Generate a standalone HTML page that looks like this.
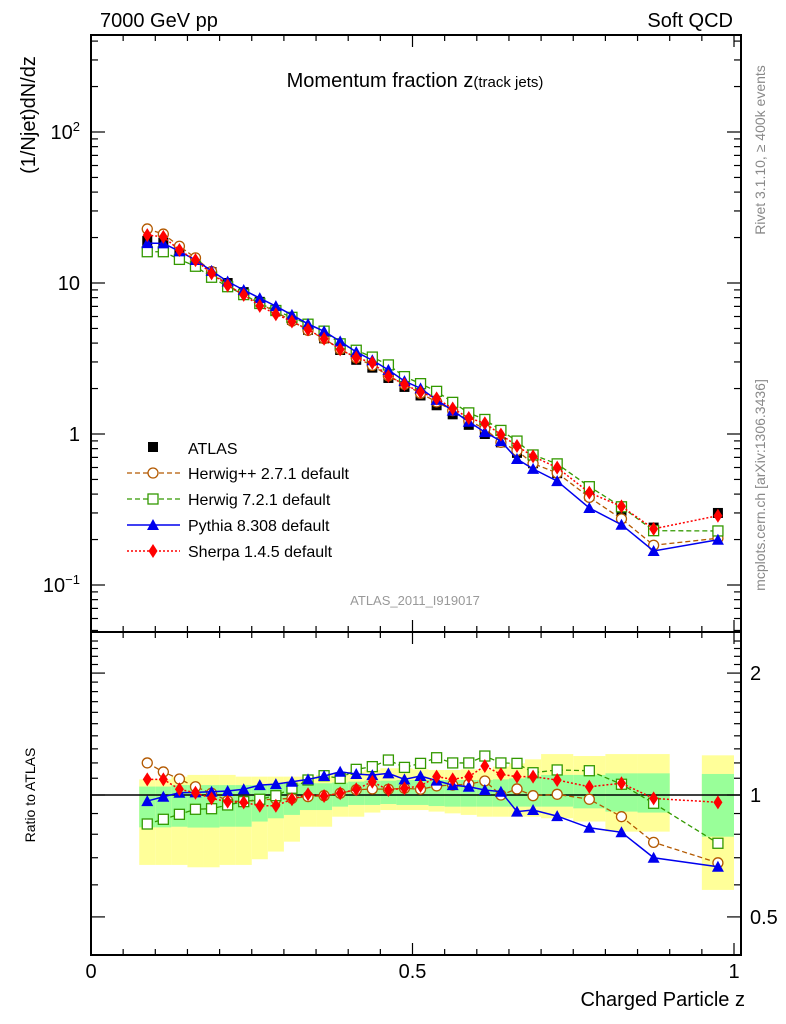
<!DOCTYPE html>
<html><head><meta charset="utf-8"><style>
body{margin:0;background:#fff;font-family:"Liberation Sans",sans-serif;}
svg{display:block}
</style></head><body>
<svg id="c" width="786" height="1024" xmlns="http://www.w3.org/2000/svg" font-family="Liberation Sans, sans-serif">
<text x="100" y="27" font-size="20">7000 GeV pp</text>
<text x="733" y="27" font-size="20" text-anchor="end">Soft QCD</text>
<text x="415" y="87" font-size="20" text-anchor="middle">Momentum fraction z<tspan font-size="15">(track jets)</tspan></text>
<text transform="translate(35,115) rotate(-90)" font-size="20" text-anchor="middle">(1/Njet)dN/dz</text>
<text transform="translate(35,795) rotate(-90)" font-size="14" text-anchor="middle">Ratio to ATLAS</text>
<text transform="translate(765,150) rotate(-90)" font-size="14" fill="#888" text-anchor="middle">Rivet 3.1.10, ≥ 400k events</text>
<text transform="translate(765,485) rotate(-90)" font-size="14" fill="#888" text-anchor="middle">mcplots.cern.ch [arXiv:1306.3436]</text>
<text x="415" y="605" font-size="13" fill="#999" text-anchor="middle">ATLAS_2011_I919017</text>
<text x="745" y="1006" font-size="20" text-anchor="end">Charged Particle z</text>
<g id="ratioBands"></g><g id="axes"></g><g id="series"></g><g id="legend"></g>
</svg>
<script>
const zLo=[0.075,0.1,0.125,0.15,0.175,0.2,0.225,0.25,0.275,0.3,0.325,0.35,0.375,0.4,0.425,0.45,0.475,0.5,0.525,0.55,0.575,0.6,0.625,0.65,0.675,0.7,0.75,0.8,0.85,0.95];
const zHi=[0.1,0.125,0.15,0.175,0.2,0.225,0.25,0.275,0.3,0.325,0.35,0.375,0.4,0.425,0.45,0.475,0.5,0.525,0.55,0.575,0.6,0.625,0.65,0.675,0.7,0.75,0.8,0.85,0.9,1.0];
const atlas=[19,18.5,16,14,11.8,10,8.7,7.5,6.6,5.7,4.9,4.3,3.6,3.1,2.75,2.35,2.05,1.8,1.55,1.35,1.15,1.0,0.88,0.75,0.64,0.55,0.39,0.31,0.24,0.30];
const rHerwigpp=[1.20,1.14,1.095,1.048,1.01,0.968,0.963,0.972,0.977,0.981,0.991,0.996,1.01,1.03,1.035,1.033,1.039,1.033,1.053,1.058,1.064,1.083,1.0,1.035,0.996,1.004,0.976,0.884,0.764,0.68];
const rHerwig7=[0.848,0.871,0.896,0.922,0.925,0.945,0.963,0.976,0.996,1.039,1.089,1.116,1.099,1.157,1.175,1.22,1.17,1.197,1.236,1.20,1.20,1.248,1.20,1.197,1.135,1.153,1.148,1.063,0.954,0.76];
const rPythia=[0.966,0.99,1.013,1.015,1.019,1.023,1.033,1.058,1.064,1.078,1.093,1.114,1.141,1.127,1.12,1.131,1.093,1.114,1.085,1.058,1.048,1.029,1.019,0.91,0.918,0.887,0.83,0.809,0.70,0.665];
const rSherpa=[1.093,1.093,1.033,1.013,0.981,0.963,0.959,0.941,0.941,0.976,1.004,0.994,1.01,1.033,1.078,1.029,1.039,1.053,1.11,1.093,1.11,1.179,1.125,1.11,1.11,1.089,1.048,1.069,0.981,0.959];
const yelLo=[0.672,0.672,0.672,0.663,0.663,0.672,0.672,0.694,0.725,0.767,0.835,0.835,0.884,0.884,0.905,0.918,0.918,0.918,0.91,0.901,0.893,0.884,0.884,0.884,0.884,0.876,0.86,0.812,0.812,0.583];
const yelHi=[1.093,1.093,1.11,1.121,1.121,1.121,1.11,1.11,1.11,1.11,1.11,1.121,1.131,1.142,1.153,1.164,1.164,1.157,1.153,1.153,1.157,1.157,1.175,1.197,1.225,1.262,1.248,1.262,1.262,1.253];
const grnLo=[0.832,0.832,0.835,0.831,0.831,0.835,0.835,0.86,0.876,0.893,0.918,0.918,0.936,0.945,0.945,0.95,0.945,0.945,0.939,0.936,0.936,0.936,0.936,0.936,0.936,0.936,0.927,0.91,0.905,0.789];
const grnHi=[1.049,1.049,1.058,1.058,1.058,1.058,1.058,1.058,1.065,1.069,1.069,1.069,1.073,1.079,1.085,1.085,1.089,1.089,1.089,1.089,1.089,1.089,1.093,1.099,1.11,1.121,1.121,1.131,1.131,1.127];
const xTicks=[0,0.5,1];
const xTickLabels=["0","0.5","1"];
const mainTicks=[0.1,1,10,100];
const mainTickLabels=["10<tspan dy='-8' font-size='13'>−1</tspan>","1","10","10<tspan dy='-8' font-size='13'>2</tspan>"];
const ratioTicks=[0.5,1,2];
const ratioTickLabels=["0.5","1","2"];

const NS="http://www.w3.org/2000/svg";
const L=91,R=741,T=35,M=632,B=955;
const X=z=>91+z*643;
const Y=v=>434-151*Math.log10(v);
const RY=r=>795-405*Math.log10(r);
function mk(p,tag,a){const e=document.createElementNS(NS,tag);for(const k in a)e.setAttribute(k,a[k]);p.appendChild(e);return e;}
const gB=document.getElementById('ratioBands'),gA=document.getElementById('axes'),gS=document.getElementById('series'),gL=document.getElementById('legend');

for(let i=0;i<zLo.length;i++){
 let e=mk(gB,'rect',{x:X(zLo[i]),y:RY(yelHi[i]),width:X(zHi[i])-X(zLo[i]),height:RY(yelLo[i])-RY(yelHi[i]),fill:'#ffff99'});
 
 
 e=mk(gB,'rect',{x:X(zLo[i]),y:RY(grnHi[i]),width:X(zHi[i])-X(zLo[i]),height:RY(grnLo[i])-RY(grnHi[i]),fill:'#99ff99'});
 
 
}
let e=mk(gA,'line',{x1:L,x2:R,y1:RY(1),y2:RY(1),stroke:'#000','stroke-width':1.5});


e=mk(gA,'rect',{x:L,y:T,width:R-L,height:M-T,fill:'none',stroke:'#000','stroke-width':2});


e=mk(gA,'rect',{x:L,y:M,width:R-L,height:B-M,fill:'none',stroke:'#000','stroke-width':2});


// x ticks
for(let z=0;z<=1.001;z+=0.05){const maj=Math.abs(z*2-Math.round(z*2))<1e-6;const l=maj?12:6;
 for(const [y0,d] of [[M,-1],[B,-1],[T,1],[M,1]]) mk(gA,'line',{x1:X(z),x2:X(z),y1:y0,y2:y0+d*l,stroke:'#000','stroke-width':1.2});}
xTicks.forEach((t,i)=>{const e=mk(gA,'text',{x:X(t),y:978,'font-size':20,'text-anchor':'middle'});e.textContent=xTickLabels[i];
 
 });
// main y ticks
for(let d=-2;d<=2;d++)for(let k=1;k<10;k++){const v=k*Math.pow(10,d);const y=Y(v);if(y<T||y>M)continue;const l=k==1?14:7;
 mk(gA,'line',{x1:L,x2:L+l,y1:y,y2:y,stroke:'#000','stroke-width':1.2});mk(gA,'line',{x1:R,x2:R-l,y1:y,y2:y,stroke:'#000','stroke-width':1.2});}
mainTicks.forEach((t,i)=>{const e=mk(gA,'text',{x:80,y:Y(t)+7,'font-size':20,'text-anchor':'end'});e.innerHTML=mainTickLabels[i];
 
 });
// ratio ticks
for(let r=0.4;r<=2.45;r+=0.1){const y=RY(r);if(y<M||y>B)continue;const maj=[0.5,1,2].some(m=>Math.abs(m-r)<1e-6);const l=maj?14:7;
 mk(gA,'line',{x1:L,x2:L+l,y1:y,y2:y,stroke:'#000','stroke-width':1.2});mk(gA,'line',{x1:R,x2:R-l,y1:y,y2:y,stroke:'#000','stroke-width':1.2});}
ratioTicks.forEach((t,i)=>{const e=mk(gA,'text',{x:750,y:RY(t)+7,'font-size':20});e.textContent=ratioTickLabels[i];
 
 });

const zc=zLo.map((l,i)=>(l+zHi[i])/2);
function marker(g,type,x,y,col){
 if(type=='sq')return mk(g,'rect',{x:x-5,y:y-5,width:10,height:10,fill:'#000'});
 if(type=='circ')return mk(g,'circle',{cx:x,cy:y,r:5,fill:'#fff',stroke:col,'stroke-width':1.3});
 if(type=='osq')return mk(g,'rect',{x:x-5,y:y-5,width:10,height:10,fill:'#fff',stroke:col,'stroke-width':1.3});
 if(type=='tri')return mk(g,'polygon',{points:`${x},${y-6} ${x-6},${y+5} ${x+6},${y+5}`,fill:col});
 if(type=='dia')return mk(g,'polygon',{points:`${x},${y-7} ${x-4.5},${y} ${x},${y+7} ${x+4.5},${y}`,fill:col});
}
const series=[
 {n:'herwigpp',r:rHerwigpp,c:'#b35900',t:'circ',d:'5,3',w:1.3,lab:'Herwig++ 2.7.1 default'},
 {n:'herwig7',r:rHerwig7,c:'#339900',t:'osq',d:'5,3',w:1.3,lab:'Herwig 7.2.1 default'},
 {n:'pythia',r:rPythia,c:'#0000ee',t:'tri',d:'',w:1.5,lab:'Pythia 8.308 default'},
 {n:'sherpa',r:rSherpa,c:'#ff0000',t:'dia',d:'2,2',w:1.5,lab:'Sherpa 1.4.5 default'}];
// ATLAS data in main
atlas.forEach((v,i)=>{const e=marker(gS,'sq',X(zc[i]),Y(v));
 
 });
series.forEach(s=>{
 const pm=zc.map((z,i)=>X(z)+','+Y(atlas[i]*s.r[i])).join(' ');
 const pr=zc.map((z,i)=>X(z)+','+RY(s.r[i])).join(' ');
 let e=mk(gS,'polyline',{points:pm,fill:'none',stroke:s.c,'stroke-width':s.w,'stroke-dasharray':s.d});
 
 
 e=mk(gS,'polyline',{points:pr,fill:'none',stroke:s.c,'stroke-width':s.w,'stroke-dasharray':s.d});
 
 
 zc.forEach((z,i)=>{let m=marker(gS,s.t,X(z),Y(atlas[i]*s.r[i]),s.c);
  
  
  m=marker(gS,s.t,X(z),RY(s.r[i]),s.c);
  
  });
});
// legend
let le=marker(gL,'sq',153,447);


let lt=mk(gL,'text',{x:188,y:454,'font-size':16});lt.textContent='ATLAS';


series.forEach((s,i)=>{const y=473+26*i;
 mk(gL,'line',{x1:127,x2:180,y1:y,y2:y,stroke:s.c,'stroke-width':s.w,'stroke-dasharray':s.d});
 marker(gL,s.t,153,y,s.c);
 const t=mk(gL,'text',{x:188,y:y+6,'font-size':16});t.textContent=s.lab;
 
 });
</script>
</body></html>
